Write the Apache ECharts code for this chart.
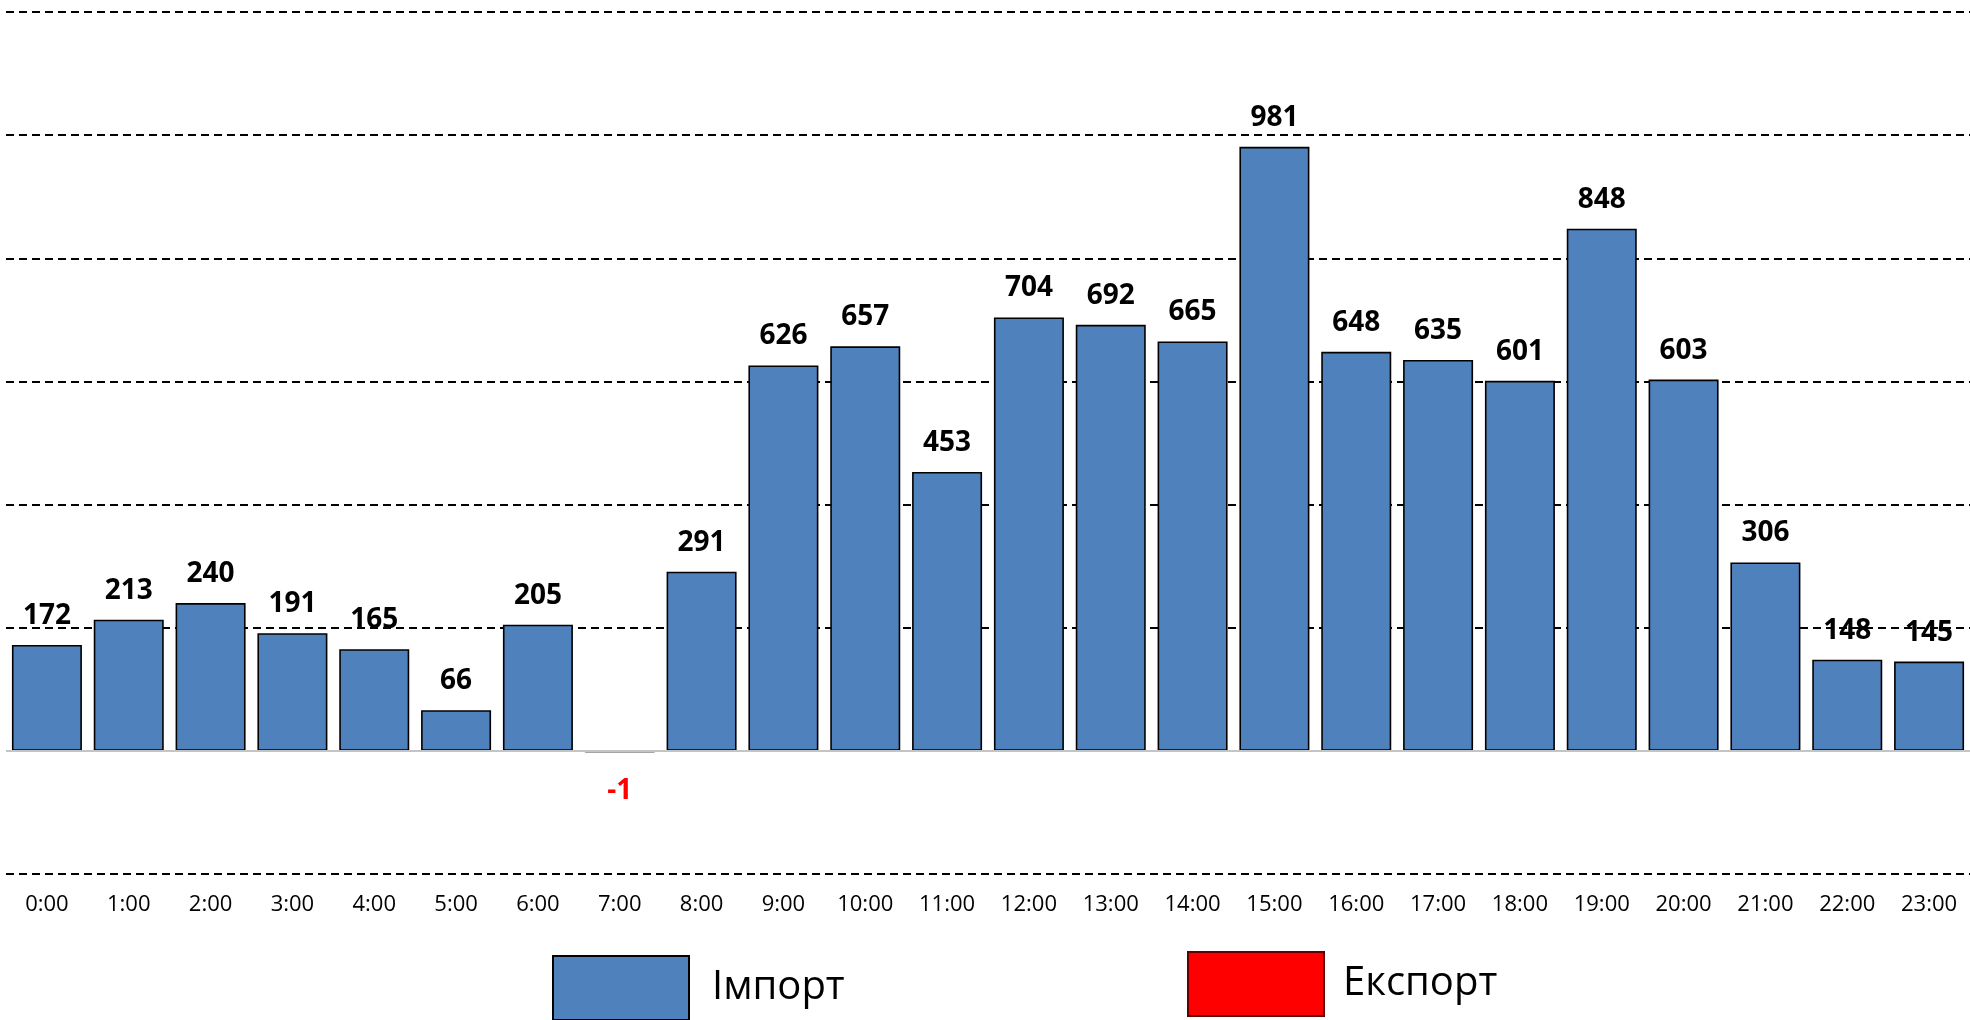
<!DOCTYPE html>
<html>
<head>
<meta charset="utf-8">
<script src="https://cdn.jsdelivr.net/npm/echarts@6/dist/echarts.min.js"></script>
<style>
html,body{margin:0;padding:0;background:#fff;}
#chart{width:1970px;height:1020px;}
</style>
</head>
<body>
<div id="chart"></div>
<script>
const hours = ['0:00','1:00','2:00','3:00','4:00','5:00','6:00','7:00','8:00','9:00','10:00','11:00','12:00','13:00','14:00','15:00','16:00','17:00','18:00','19:00','20:00','21:00','22:00','23:00'];
const importValues = [172,213,240,191,165,66,205,null,291,626,657,453,704,692,665,981,648,635,601,848,603,306,148,145];
const exportValues = [null,null,null,null,null,null,null,-1,null,null,null,null,null,null,null,null,null,null,null,null,null,null,null,null];
const seriesNames = ['Імпорт','Експорт'];

const chart = echarts.init(document.getElementById('chart'), null, {renderer:'canvas'});
const FONT = 'Open Sans';
chart.setOption({
  animation:false,
  backgroundColor:'#fff',
  grid:{left:6, top:12, width:1967, height:862, containLabel:false},
  legend:[
    {data:[seriesNames[0]], left:552, top:955, padding:0, itemWidth:136, itemHeight:64, icon:'rect',
     textStyle:{fontFamily:FONT, fontSize:40, color:'#000', padding:[0,0,0,18]}},
    {data:[seriesNames[1]], left:1187, top:951, padding:0, itemWidth:136, itemHeight:64, icon:'rect',
     textStyle:{fontFamily:FONT, fontSize:40, color:'#000', padding:[0,0,0,14]}}
  ],
  xAxis:{
    type:'category', data:hours, position:'bottom',
    axisLine:{show:false, onZero:false}, axisTick:{show:false},
    axisLabel:{interval:0, margin:20, fontFamily:FONT, fontSize:22, color:'#000'}
  },
  yAxis:{
    type:'value', min:-200, max:1200, interval:200,
    axisLabel:{show:false}, axisLine:{show:false}, axisTick:{show:false},
    splitLine:{show:true, lineStyle:{color:['#000','rgba(0,0,0,0)','#000','#000','#000','#000','#000','#000'], width:1.8, type:[8,5]}}
  },
  series:[
    {
      name:seriesNames[0], type:'bar', stack:'total', data:importValues, barWidth:70,
      itemStyle:{color:'#4F81BD', borderColor:'#000', borderWidth:1.6},
      label:{show:true, position:'top', distance:15, fontFamily:FONT, fontWeight:'bold', fontSize:28, color:'#000'},
      markLine:{silent:true, symbol:'none', data:[{yAxis:0}], label:{show:false},
        lineStyle:{color:'#C4C4C4', width:2, type:'solid'}},
      z:2
    },
    {
      name:seriesNames[1], type:'bar', stack:'total', barWidth:70, barMinHeight:2,
      data:exportValues.map(v => v == null ? null : {value:v, itemStyle:{color:'#9A9A9A', borderColor:'#9A9A9A', borderWidth:1}}),
      itemStyle:{color:'#FF0000', borderColor:'#600000', borderWidth:1},
      label:{show:true, position:'bottom', distance:24, fontFamily:FONT, fontWeight:'bold', fontSize:28, color:'#FF0000'},
      z:3
    }
  ]
});
</script>
</body>
</html>
